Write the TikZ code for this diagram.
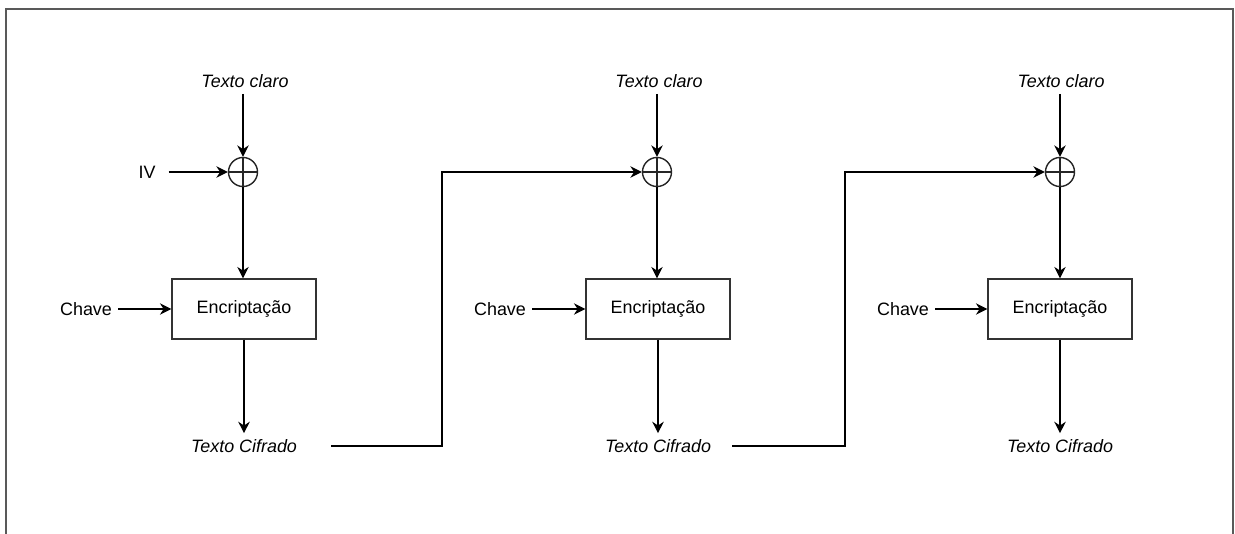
\documentclass[tikz,border=0pt]{standalone}
\usepackage{fontspec}
\setmainfont{Liberation Sans}
\usetikzlibrary{arrows.meta}

\begin{document}
\begin{tikzpicture}[
  lbl/.style={font=\fontsize{10.2}{12}\selectfont},
  flow/.style={font=\fontsize{10.2}{12}\selectfont\itshape},
  cipher/.style={draw=black!80, line width=0.75pt, minimum width=2.88cm, minimum height=1.2cm, font=\fontsize{10.2}{12}\selectfont},
  xor/.style={circle, draw=black!85, line width=0.8pt, minimum size=0.58cm, inner sep=0pt,
    path picture={\draw[black!85, line width=0.7pt]
      (path picture bounding box.north) -- (path picture bounding box.south)
      (path picture bounding box.west) -- (path picture bounding box.east);}},
  arr/.style={line width=0.8pt, -{Stealth[length=6.5pt, width=6.5pt]}},
  frame/.style={draw=black!65, line width=0.8pt},
]
\useasboundingbox (0,0) rectangle (24.7,-10.68);
% outer frame, open at the bottom
\draw[frame] (0.12,-10.68) -- (0.12,-0.18) -- (24.66,-0.18) -- (24.66,-10.68);

% first block
\node[flow]   (p1) at (4.9,-1.62)  {Texto claro};
\node[xor]    (x1) at (4.86,-3.44) {};
\node[lbl]    (iv) at (2.94,-3.44) {IV};
\node[cipher] (e1) at (4.88,-6.18) {Encriptação};
\node[lbl]    (k1) at (1.72,-6.18) {Chave};
\node[flow]   (c1) at (4.88,-8.92) {Texto Cifrado};

% second block
\node[flow]   (p2) at (13.18,-1.62) {Texto claro};
\node[xor]    (x2) at (13.14,-3.44) {};
\node[cipher] (e2) at (13.16,-6.18) {Encriptação};
\node[lbl]    (k2) at (10.0,-6.18)  {Chave};
\node[flow]   (c2) at (13.16,-8.92) {Texto Cifrado};

% third block
\node[flow]   (p3) at (21.22,-1.62) {Texto claro};
\node[xor]    (x3) at (21.2,-3.44)  {};
\node[cipher] (e3) at (21.2,-6.18)  {Encriptação};
\node[lbl]    (k3) at (18.06,-6.18) {Chave};
\node[flow]   (c3) at (21.2,-8.92)  {Texto Cifrado};

% bends of the chaining lines
\coordinate (b1) at (8.84,-8.92);
\coordinate (b2) at (16.9,-8.92);

% arrows inside each block
\foreach \i in {1,2,3} {
  \draw[arr] (p\i.south -| x\i) -- (x\i.north);
  \draw[arr] (x\i.south) -- (e\i.north -| x\i);
  \draw[arr] (e\i.south) -- (c\i.north);
  \draw[arr] (k\i.east) -- (e\i.west);
}
\draw[arr] ([xshift=4pt]iv.east) -- (x1.west);

% chaining: cipher text feeds the next xor
\draw[arr] ([xshift=16pt]c1.east) -- (b1) |- (x2.west);
\draw[arr] ([xshift=8.6pt]c2.east) -- (b2) |- (x3.west);
\end{tikzpicture}
\end{document}
